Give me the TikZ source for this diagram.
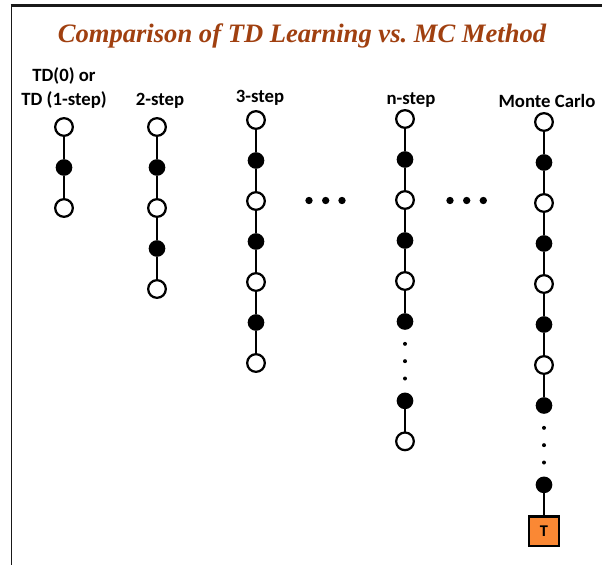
\documentclass[tikz,border=0pt]{standalone}
\usepackage{fontspec}
\setmainfont{Liberation Serif}
\setsansfont{Carlito}
\usetikzlibrary{positioning}
\definecolor{titlebrown}{RGB}{160,64,16}
\definecolor{termorange}{RGB}{250,136,52}

\begin{document}
\begin{tikzpicture}[x=0.03cm, y=0.03cm, node distance=0.7cm,
  snode/.style={circle, draw, fill=white, line width=1.9pt, minimum size=0.53cm, inner sep=0pt, outer sep=0pt},
  anode/.style={circle, fill=black, minimum size=0.5cm, inner sep=0pt, outer sep=0pt},
  term/.style={draw, fill=termorange, line width=1.9pt, minimum size=0.88cm, inner sep=0pt, outer sep=0pt,
    font=\sffamily\bfseries\fontsize{14}{14}\selectfont},
  vdot/.style={circle, fill=black, minimum size=0.12cm, inner sep=0pt, outer sep=0pt},
  hdot/.style={circle, fill=black, minimum size=0.22cm, inner sep=0pt},
  lbl/.style={font=\sffamily\bfseries\fontsize{16}{20.5}\selectfont, align=center},
  link/.style={line width=1.9pt}]
\useasboundingbox (0,0) rectangle (602,-565);
% frame
\draw[line width=1.6pt, black!90] (11.5,-565) -- (11.5,-5.5);
\draw[line width=2.3pt, black!90] (10.6,-5.5) -- (602,-5.5);
% title
\node[font=\bfseries\itshape\fontsize{22.7}{23}\selectfont, text=titlebrown] (title) at (302,-36)
  {Comparison of TD Learning vs.\ MC Method};
% column labels
\node[lbl] (ltd) at (64,-88) {TD(0) or\\TD (1-step)};
\node[lbl] (ltw) at (160,-101) {2-step};
\node[lbl] (lth) at (260,-98) {3-step};
\node[lbl] (lns) at (411,-100) {n-step};
\node[lbl] (lmc) at (547,-101) {Monte Carlo};
% TD(0)
\node[snode] (td0) at (64,-127) {};
\node[anode, below=of td0] (td1) {};
\node[snode, below=of td1] (td2) {};
\draw[link] (td0) -- (td1) -- (td2);
% 2-step
\node[snode] (tw0) at (157,-127) {};
\node[anode, below=of tw0] (tw1) {};
\node[snode, below=of tw1] (tw2) {};
\node[anode, below=of tw2] (tw3) {};
\node[snode, below=of tw3] (tw4) {};
\draw[link] (tw0) -- (tw1) -- (tw2) -- (tw3) -- (tw4);
% 3-step
\node[snode] (th0) at (256,-120) {};
\node[anode, below=of th0] (th1) {};
\node[snode, below=of th1] (th2) {};
\node[anode, below=of th2] (th3) {};
\node[snode, below=of th3] (th4) {};
\node[anode, below=of th4] (th5) {};
\node[snode, below=of th5] (th6) {};
\draw[link] (th0) -- (th1) -- (th2) -- (th3) -- (th4) -- (th5) -- (th6);
% ...
\node[hdot] (h1) at (309,-200.5) {};
\node[hdot] (h2) at (325.7,-200.5) {};
\node[hdot] (h3) at (342,-200.5) {};
% n-step
\node[snode] (ns0) at (405,-119) {};
\node[anode, below=of ns0] (ns1) {};
\node[snode, below=of ns1] (ns2) {};
\node[anode, below=of ns2] (ns3) {};
\node[snode, below=of ns3] (ns4) {};
\node[anode, below=of ns4] (ns5) {};
\node[vdot, below=0.36cm of ns5] (nd1) {};
\node[vdot, below=0.4cm of nd1] (nd2) {};
\node[vdot, below=0.4cm of nd2] (nd3) {};
\node[anode, below=0.36cm of nd3] (ns6) {};
\node[snode, below=of ns6] (ns7) {};
\draw[link] (ns0) -- (ns1) -- (ns2) -- (ns3) -- (ns4) -- (ns5);
\draw[link] (ns6) -- (ns7);
% ...
\node[hdot] (h4) at (450,-200.5) {};
\node[hdot] (h5) at (466.7,-200.5) {};
\node[hdot] (h6) at (483.3,-200.5) {};
% Monte Carlo
\node[snode] (mc0) at (544,-122) {};
\node[anode, below=of mc0] (mc1) {};
\node[snode, below=of mc1] (mc2) {};
\node[anode, below=of mc2] (mc3) {};
\node[snode, below=of mc3] (mc4) {};
\node[anode, below=of mc4] (mc5) {};
\node[snode, below=of mc5] (mc6) {};
\node[anode, below=of mc6] (mc7) {};
\node[vdot, below=0.36cm of mc7] (md1) {};
\node[vdot, below=0.4cm of md1] (md2) {};
\node[vdot, below=0.4cm of md2] (md3) {};
\node[anode, below=0.36cm of md3] (mc8) {};
\node[term, below=of mc8] (T) {T};
\draw[link] (mc0) -- (mc1) -- (mc2) -- (mc3) -- (mc4) -- (mc5) -- (mc6) -- (mc7);
\draw[link] (mc8) -- (T);
\end{tikzpicture}
\end{document}
